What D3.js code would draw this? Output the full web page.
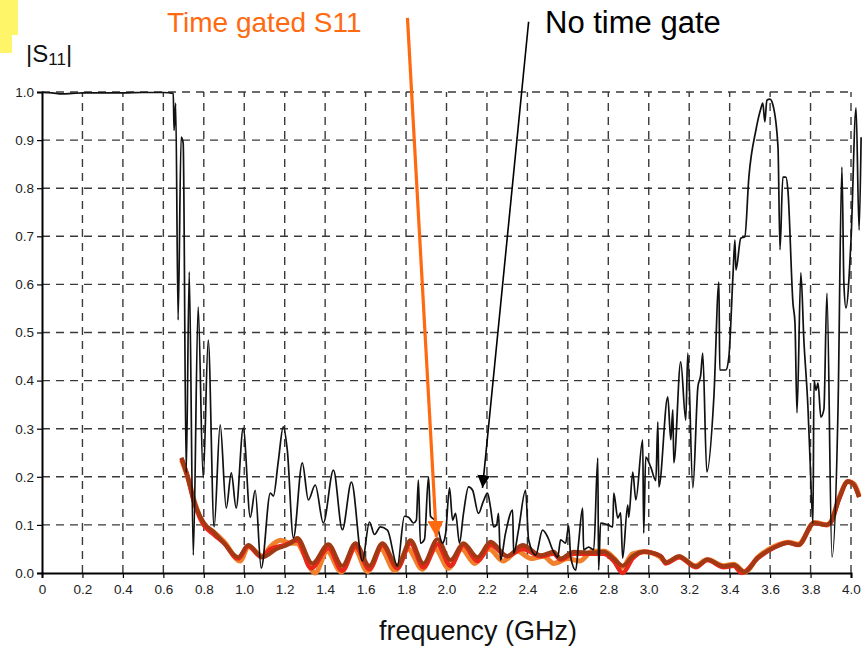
<!DOCTYPE html>
<html>
<head>
<meta charset="utf-8">
<script src="https://cdn.jsdelivr.net/npm/d3@7"></script>
<style>
  body { margin: 0; background: #fff; }
  svg { display: block; font-family: "Liberation Sans", Arial, sans-serif; }
</style>
</head>
<body>
<div id="chart"></div>
<script>
// x ticks and y ticks
const xTicks = [0, 0.2, 0.4, 0.6, 0.8, 1.0, 1.2, 1.4, 1.6, 1.8, 2.0, 2.2, 2.4, 2.6, 2.8, 3.0, 3.2, 3.4, 3.6, 3.8, 4.0];
const yTicks = [0, 0.1, 0.2, 0.3, 0.4, 0.5, 0.6, 0.7, 0.8, 0.9, 1.0];

// |S11| without time gate, [GHz, value]
const noGate = [
  [0.00, 0.999], [0.05, 0.998], [0.10, 0.996], [0.15, 0.997], [0.20, 0.998], [0.30, 0.998],
  [0.40, 0.998], [0.50, 0.999], [0.60, 0.999], [0.649, 0.997], [0.653, 0.92], [0.661, 0.977],
  [0.673, 0.526], [0.688, 0.906], [0.698, 0.894], [0.713, 0.208], [0.728, 0.626], [0.748, 0.037],
  [0.772, 0.553], [0.797, 0.198], [0.822, 0.484], [0.851, 0.096], [0.881, 0.308], [0.911, 0.135],
  [0.936, 0.208], [0.960, 0.135], [0.995, 0.301], [1.030, 0.116], [1.054, 0.172], [1.084, 0.010],
  [1.129, 0.166], [1.144, 0.160], [1.168, 0.231], [1.193, 0.304], [1.213, 0.255], [1.243, 0.073],
  [1.287, 0.229], [1.317, 0.152], [1.351, 0.183], [1.391, 0.104], [1.441, 0.214], [1.485, 0.090],
  [1.530, 0.189], [1.584, 0.025], [1.619, 0.106], [1.644, 0.080], [1.673, 0.096], [1.708, 0.089],
  [1.757, 0.015], [1.792, 0.118], [1.812, 0.116], [1.837, 0.104], [1.851, 0.110], [1.861, 0.193],
  [1.871, 0.062], [1.891, 0.070], [1.911, 0.200], [1.921, 0.118], [1.941, 0.110], [1.955, 0.096],
  [1.980, 0.062], [1.995, 0.080], [2.015, 0.177], [2.030, 0.110], [2.045, 0.124], [2.064, 0.062],
  [2.084, 0.124], [2.109, 0.179], [2.129, 0.172], [2.158, 0.124], [2.183, 0.150], [2.203, 0.166],
  [2.218, 0.135], [2.233, 0.096], [2.248, 0.100], [2.257, 0.124], [2.267, 0.027], [2.292, 0.083],
  [2.327, 0.131], [2.332, 0.041], [2.356, 0.089], [2.391, 0.172], [2.406, 0.069], [2.441, 0.037],
  [2.475, 0.089], [2.500, 0.075], [2.525, 0.048], [2.550, 0.033], [2.564, 0.069], [2.589, 0.062],
  [2.604, 0.098], [2.614, 0.033], [2.639, 0.006], [2.653, 0.062], [2.673, 0.135], [2.678, 0.048],
  [2.703, 0.054], [2.728, 0.048], [2.748, 0.239], [2.752, 0.006], [2.762, 0.104], [2.797, 0.100],
  [2.822, 0.096], [2.827, 0.166], [2.847, 0.114], [2.861, 0.125], [2.871, 0.031], [2.896, 0.141],
  [2.901, 0.116], [2.921, 0.210], [2.936, 0.152], [2.970, 0.277], [2.975, 0.083], [2.985, 0.241],
  [3.010, 0.220], [3.035, 0.192], [3.045, 0.314], [3.050, 0.179], [3.094, 0.366], [3.109, 0.277],
  [3.119, 0.339], [3.124, 0.229], [3.158, 0.439], [3.183, 0.318], [3.193, 0.457], [3.218, 0.177],
  [3.243, 0.387], [3.257, 0.412], [3.267, 0.457], [3.287, 0.210], [3.322, 0.366], [3.347, 0.605],
  [3.351, 0.422], [3.381, 0.422], [3.396, 0.449], [3.416, 0.615], [3.426, 0.692], [3.431, 0.630],
  [3.455, 0.696], [3.475, 0.699], [3.495, 0.823], [3.530, 0.921], [3.554, 0.965], [3.564, 0.977],
  [3.574, 0.938], [3.584, 0.983], [3.599, 0.985], [3.614, 0.973], [3.639, 0.886], [3.649, 0.672],
  [3.663, 0.823], [3.678, 0.823], [3.688, 0.796], [3.713, 0.561], [3.723, 0.520], [3.733, 0.333],
  [3.752, 0.624], [3.767, 0.484], [3.787, 0.345], [3.797, 0.241], [3.812, 0.104], [3.817, 0.400],
  [3.827, 0.380], [3.837, 0.395], [3.851, 0.324], [3.866, 0.340], [3.881, 0.582], [3.906, 0.033],
  [3.936, 0.345], [3.955, 0.844], [3.965, 0.600], [3.975, 0.551], [4.000, 0.692], [4.025, 0.967],
  [4.040, 0.713], [4.050, 0.906]
];

// time gated |S11|, three traces
const gatedOrange = [
  [0.69, 0.235], [0.72, 0.20], [0.76, 0.14], [0.80, 0.10], [0.85, 0.085], [0.90, 0.065], [0.98, 0.025],
  [1.02, 0.055], [1.09, 0.035], [1.13, 0.055], [1.18, 0.068], [1.23, 0.062], [1.26, 0.062], [1.30, 0.035],
  [1.35, 0.0], [1.41, 0.045], [1.48, 0.002], [1.545, 0.05], [1.61, 0.003], [1.675, 0.05], [1.745, 0.005],
  [1.81, 0.05], [1.88, 0.008], [1.945, 0.05], [2.01, 0.01], [2.075, 0.05], [2.14, 0.02], [2.21, 0.05],
  [2.28, 0.025], [2.35, 0.045], [2.42, 0.03], [2.48, 0.035], [2.53, 0.02], [2.60, 0.03], [2.66, 0.025],
  [2.72, 0.045], [2.78, 0.045], [2.83, 0.03], [2.87, 0.012], [2.92, 0.04], [2.98, 0.044], [3.05, 0.035],
  [3.09, 0.022], [3.15, 0.034], [3.23, 0.015], [3.29, 0.028], [3.37, 0.015], [3.42, 0.018], [3.475, 0.002],
  [3.54, 0.033], [3.62, 0.055], [3.69, 0.064], [3.74, 0.06], [3.82, 0.105], [3.88, 0.10], [3.90, 0.106],
  [3.94, 0.155], [3.985, 0.19], [4.015, 0.185], [4.04, 0.16]
];
const gatedRed = [
  [0.69, 0.238], [0.72, 0.20], [0.75, 0.15], [0.80, 0.10], [0.85, 0.08], [0.90, 0.062], [0.97, 0.03],
  [1.02, 0.056], [1.085, 0.033], [1.13, 0.05], [1.20, 0.058], [1.262, 0.068], [1.33, 0.01], [1.416, 0.052],
  [1.485, 0.005], [1.55, 0.055], [1.619, 0.008], [1.683, 0.058], [1.757, 0.01], [1.822, 0.062], [1.886, 0.012],
  [1.955, 0.06], [2.02, 0.015], [2.084, 0.058], [2.153, 0.025], [2.218, 0.058], [2.30, 0.035], [2.376, 0.05],
  [2.465, 0.035], [2.53, 0.04], [2.564, 0.028], [2.629, 0.04], [2.713, 0.04], [2.777, 0.04], [2.827, 0.025],
  [2.871, 0.0], [2.92, 0.03], [2.975, 0.044], [3.06, 0.035], [3.084, 0.02], [3.15, 0.033], [3.233, 0.012],
  [3.29, 0.027], [3.37, 0.012], [3.42, 0.015], [3.46, 0.0], [3.54, 0.031], [3.62, 0.053], [3.69, 0.063],
  [3.74, 0.058], [3.817, 0.104], [3.876, 0.10], [3.90, 0.105], [3.94, 0.153], [3.985, 0.19], [4.015, 0.183],
  [4.04, 0.158]
];
const gatedBrown = [
  [0.69, 0.24], [0.72, 0.20], [0.75, 0.152], [0.80, 0.105], [0.85, 0.085], [0.90, 0.062], [0.97, 0.033],
  [1.02, 0.058], [1.09, 0.033], [1.16, 0.05], [1.23, 0.062], [1.262, 0.073], [1.337, 0.02], [1.416, 0.06],
  [1.485, 0.015], [1.55, 0.062], [1.619, 0.015], [1.683, 0.062], [1.757, 0.015], [1.822, 0.068], [1.886, 0.02],
  [1.955, 0.07], [2.02, 0.027], [2.084, 0.062], [2.153, 0.033], [2.218, 0.065], [2.30, 0.035], [2.376, 0.058],
  [2.465, 0.037], [2.53, 0.044], [2.564, 0.03], [2.629, 0.044], [2.713, 0.042], [2.777, 0.044], [2.827, 0.03],
  [2.871, 0.015], [2.92, 0.035], [2.975, 0.044], [3.06, 0.035], [3.084, 0.022], [3.15, 0.035], [3.233, 0.014],
  [3.29, 0.028], [3.37, 0.014], [3.42, 0.017], [3.475, 0.002], [3.54, 0.032], [3.62, 0.053], [3.69, 0.063],
  [3.74, 0.058], [3.817, 0.104], [3.876, 0.10], [3.90, 0.106], [3.94, 0.153], [3.985, 0.19], [4.015, 0.183],
  [4.04, 0.158]
];

// arrows: [start, tip] in data units
const gatedArrow = [[1.807, 1.154], [1.95, 0.075]];
const noGateArrow = [[2.406, 1.146], [2.178, 0.177]];

const width = 866, height = 648;
const margin = { top: 92, right: 15, bottom: 75, left: 42 };

const svg = d3.select("#chart")
  .append("svg")
  .attr("width", width)
  .attr("height", height);

const x = d3.scaleLinear().domain([0, 4]).range([margin.left, width - margin.right]);
const y = d3.scaleLinear().domain([0, 1]).range([height - margin.bottom, margin.top]);

// yellow corner
svg.append("rect").attr("x", 0).attr("y", 0).attr("width", 18).attr("height", 35).attr("fill", "#fff568");
svg.append("rect").attr("x", 0).attr("y", 35).attr("width", 12).attr("height", 18).attr("fill", "#fff568");

// dashed grid
svg.append("g")
  .selectAll("line")
  .data(xTicks.filter(d => d > 0))
  .join("line")
  .attr("x1", d => x(d)).attr("x2", d => x(d))
  .attr("y1", y(0)).attr("y2", y(1))
  .attr("stroke", "#3a3a3a").attr("stroke-width", 1.4).attr("stroke-dasharray", "8,6");

svg.append("g")
  .selectAll("line")
  .data(yTicks.filter(d => d > 0))
  .join("line")
  .attr("x1", x(0)).attr("x2", x(4))
  .attr("y1", d => y(d)).attr("y2", d => y(d))
  .attr("stroke", "#3a3a3a").attr("stroke-width", 1.4).attr("stroke-dasharray", "8,6");

// axes
const xAxis = d3.axisBottom(x).tickValues(xTicks).tickSize(5)
  .tickFormat(d => d === 0 ? "0" : d3.format(".1f")(d));
svg.append("g")
  .attr("transform", "translate(0," + y(0) + ")")
  .call(xAxis)
  .call(g => g.select(".domain").attr("stroke", "#000").attr("stroke-width", 2))
  .call(g => g.selectAll(".tick line").attr("stroke", "#000").attr("stroke-width", 1.2))
  .call(g => g.selectAll(".tick text").attr("font-size", 13.5).attr("fill", "#222").attr("dy", "0.95em"));

const yAxis = d3.axisLeft(y).tickValues(yTicks).tickSize(5).tickFormat(d3.format(".1f"));
svg.append("g")
  .attr("transform", "translate(" + x(0) + ",0)")
  .call(yAxis)
  .call(g => g.select(".domain").attr("stroke", "#000").attr("stroke-width", 2))
  .call(g => g.selectAll(".tick line").attr("stroke", "#000").attr("stroke-width", 1.2))
  .call(g => g.selectAll(".tick text").attr("font-size", 13.5).attr("fill", "#222").attr("x", -8));

// curves
const smooth = d3.line().x(d => x(d[0])).y(d => y(d[1])).curve(d3.curveMonotoneX);

svg.append("path").datum(gatedOrange).attr("d", smooth)
  .attr("fill", "none").attr("stroke", "#f0802c").attr("stroke-width", 5).attr("stroke-linejoin", "round");
svg.append("path").datum(gatedRed).attr("d", smooth)
  .attr("fill", "none").attr("stroke", "#e8261a").attr("stroke-width", 4.5).attr("stroke-linejoin", "round");
svg.append("path").datum(gatedBrown).attr("d", smooth)
  .attr("fill", "none").attr("stroke", "#a13a14").attr("stroke-width", 4).attr("stroke-linejoin", "round");

svg.append("path").datum(noGate).attr("d", smooth)
  .attr("fill", "none").attr("stroke", "#111").attr("stroke-width", 1.7).attr("stroke-linejoin", "round");

// arrows
const defs = svg.append("defs");
function marker(id, color, size) {
  defs.append("marker")
    .attr("id", id)
    .attr("viewBox", "0 0 10 10")
    .attr("refX", 10).attr("refY", 5)
    .attr("markerWidth", size).attr("markerHeight", size)
    .attr("markerUnits", "strokeWidth")
    .attr("orient", "auto")
    .append("path").attr("d", "M0,0L10,5L0,10Z").attr("fill", color);
}
marker("arrowOrange", "#ff6a10", 5);
marker("arrowBlack", "#000", 8);

svg.append("line")
  .attr("x1", x(gatedArrow[0][0])).attr("y1", y(gatedArrow[0][1]))
  .attr("x2", x(gatedArrow[1][0])).attr("y2", y(gatedArrow[1][1]))
  .attr("stroke", "#ff6a10").attr("stroke-width", 3.2)
  .attr("marker-end", "url(#arrowOrange)");

svg.append("line")
  .attr("x1", x(noGateArrow[0][0])).attr("y1", y(noGateArrow[0][1]))
  .attr("x2", x(noGateArrow[1][0])).attr("y2", y(noGateArrow[1][1]))
  .attr("stroke", "#000").attr("stroke-width", 1.6)
  .attr("marker-end", "url(#arrowBlack)");

// texts
svg.append("text")
  .attr("x", 167).attr("y", 32)
  .attr("font-size", 28).attr("fill", "#ff6a10")
  .text("Time gated S11");

svg.append("text")
  .attr("x", 545).attr("y", 33)
  .attr("font-size", 31).attr("fill", "#000")
  .text("No time gate");

const s11 = svg.append("text")
  .attr("x", 26).attr("y", 62)
  .attr("font-size", 24).attr("fill", "#111");
s11.append("tspan").text("|S");
s11.append("tspan").attr("font-size", 17).attr("dy", 3).text("11");
s11.append("tspan").attr("dy", -3).text("|");

svg.append("text")
  .attr("x", 478).attr("y", 640)
  .attr("text-anchor", "middle")
  .attr("font-size", 27).attr("fill", "#111")
  .text("frequency (GHz)");
</script>
</body>
</html>
